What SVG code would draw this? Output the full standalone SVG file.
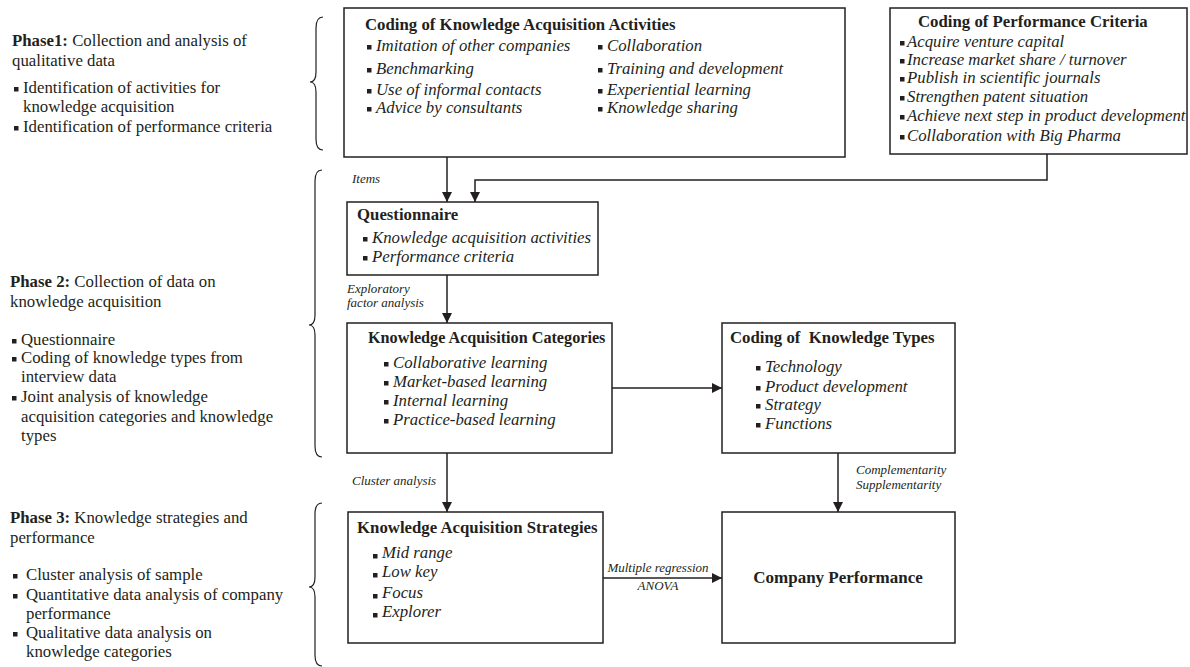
<svg xmlns="http://www.w3.org/2000/svg" width="1190" height="667" viewBox="0 0 1190 667">
<defs>
<style>
text{font-family:"Liberation Serif","Times New Roman",serif;fill:#231f20}
.t{font-size:16.8px}
.b{font-weight:bold}
.h{font-size:16.8px;font-weight:bold}
.i{font-size:16.8px;font-style:italic}
.l{font-size:13px;font-style:italic}
.box{fill:#fff;stroke:#231f20;stroke-width:1.5}
.c{fill:none;stroke:#231f20;stroke-width:1.5}
.br{fill:none;stroke:#231f20;stroke-width:1.2}
.bu{fill:#231f20}
</style>
<marker id="ah" viewBox="0 0 10 10" refX="10" refY="5" markerWidth="10" markerHeight="10" markerUnits="userSpaceOnUse" orient="auto">
<path d="M0,0 L10,5 L0,10 z" fill="#231f20"/>
</marker>
</defs>

<g id="phase1">
<text class="t" x="12" y="46"><tspan class="b">Phase1:</tspan> Collection and analysis of</text>
<text class="t" x="12" y="66">qualitative data</text>
<rect class="bu" x="14" y="87" width="4.5" height="4.5"/>
<text class="t" x="23" y="93">Identification of activities for</text>
<text class="t" x="23" y="112">knowledge acquisition</text>
<rect class="bu" x="14" y="126" width="4.5" height="4.5"/>
<text class="t" x="23" y="132">Identification of performance criteria</text>
<path class="br" d="M323,17 Q316,17 316,28 L316,72 Q316,82 310,82 Q316,82 316,92 L316,139 Q316,150 323,150"/>
</g>

<g id="phase2">
<text class="t" x="10" y="287"><tspan class="b">Phase 2:</tspan> Collection of data on</text>
<text class="t" x="10" y="307">knowledge acquisition</text>
<rect class="bu" x="12" y="339" width="4.5" height="4.5"/>
<text class="t" x="21" y="345">Questionnaire</text>
<rect class="bu" x="12" y="357" width="4.5" height="4.5"/>
<text class="t" x="21" y="363">Coding of knowledge types from</text>
<text class="t" x="21" y="382">interview data</text>
<rect class="bu" x="12" y="396" width="4.5" height="4.5"/>
<text class="t" x="21" y="402">Joint analysis of knowledge</text>
<text class="t" x="21" y="422">acquisition categories and knowledge</text>
<text class="t" x="21" y="441">types</text>
<path class="br" d="M322,170 Q315,170 315,181 L315,315 Q315,325 309,325 Q315,325 315,335 L315,446 Q315,457 322,457"/>
</g>

<g id="phase3">
<text class="t" x="10" y="523"><tspan class="b">Phase 3:</tspan> Knowledge strategies and</text>
<text class="t" x="10" y="543">performance</text>
<rect class="bu" x="13" y="574" width="4.5" height="4.5"/>
<text class="t" x="26" y="580">Cluster analysis of sample</text>
<rect class="bu" x="13" y="594" width="4.5" height="4.5"/>
<text class="t" x="26" y="600">Quantitative data analysis of company</text>
<text class="t" x="26" y="619">performance</text>
<rect class="bu" x="13" y="632" width="4.5" height="4.5"/>
<text class="t" x="26" y="638">Qualitative data analysis on</text>
<text class="t" x="26" y="657">knowledge categories</text>
<path class="br" d="M322,503 Q315,503 315,514 L315,577 Q315,587 309,587 Q315,587 315,597 L315,655 Q315,666 322,666"/>
</g>

<g id="connectors">
<line class="c" x1="447" y1="157" x2="447" y2="202" marker-end="url(#ah)"/>
<polyline class="c" points="1047,154 1047,180 475,180 475,202" marker-end="url(#ah)"/>
<line class="c" x1="447" y1="275" x2="447" y2="323" marker-end="url(#ah)"/>
<line class="c" x1="612" y1="388" x2="722" y2="388" marker-end="url(#ah)"/>
<line class="c" x1="447" y1="453" x2="447" y2="512" marker-end="url(#ah)"/>
<line class="c" x1="838" y1="453" x2="838" y2="512" marker-end="url(#ah)"/>
<line class="c" x1="603" y1="578" x2="722" y2="578" marker-end="url(#ah)"/>
<text class="l" x="352" y="183">Items</text>
<text class="l" x="347" y="293">Exploratory</text>
<text class="l" x="347" y="307">factor analysis</text>
<text class="l" x="352" y="485">Cluster analysis</text>
<text class="l" x="856" y="474">Complementarity</text>
<text class="l" x="856" y="489">Supplementarity</text>
<text class="l" x="658" y="572" text-anchor="middle">Multiple regression</text>
<text class="l" x="658" y="590" text-anchor="middle">ANOVA</text>
</g>

<g id="activities">
<rect class="box" x="344" y="8" width="501" height="149"/>
<text class="h" x="365" y="30">Coding of Knowledge Acquisition Activities</text>
<rect class="bu" x="367" y="45" width="4.5" height="4.5"/>
<text class="i" x="376" y="51">Imitation of other companies</text>
<rect class="bu" x="367" y="68" width="4.5" height="4.5"/>
<text class="i" x="376" y="74">Benchmarking</text>
<rect class="bu" x="367" y="89" width="4.5" height="4.5"/>
<text class="i" x="376" y="95">Use of informal contacts</text>
<rect class="bu" x="367" y="107" width="4.5" height="4.5"/>
<text class="i" x="376" y="113">Advice by consultants</text>
<rect class="bu" x="598" y="45" width="4.5" height="4.5"/>
<text class="i" x="607" y="51">Collaboration</text>
<rect class="bu" x="598" y="68" width="4.5" height="4.5"/>
<text class="i" x="607" y="74">Training and development</text>
<rect class="bu" x="598" y="89" width="4.5" height="4.5"/>
<text class="i" x="607" y="95">Experiential learning</text>
<rect class="bu" x="598" y="107" width="4.5" height="4.5"/>
<text class="i" x="607" y="113">Knowledge sharing</text>
</g>

<g id="criteria">
<rect class="box" x="890" y="8" width="297" height="146"/>
<text class="h" x="918" y="27">Coding of Performance Criteria</text>
<rect class="bu" x="900" y="41" width="4.5" height="4.5"/>
<text class="i" x="907" y="47">Acquire venture capital</text>
<rect class="bu" x="900" y="59" width="4.5" height="4.5"/>
<text class="i" x="907" y="65">Increase market share / turnover</text>
<rect class="bu" x="900" y="77" width="4.5" height="4.5"/>
<text class="i" x="907" y="83">Publish in scientific journals</text>
<rect class="bu" x="900" y="96" width="4.5" height="4.5"/>
<text class="i" x="907" y="102">Strengthen patent situation</text>
<rect class="bu" x="900" y="115" width="4.5" height="4.5"/>
<text class="i" x="907" y="121">Achieve next step in product development</text>
<rect class="bu" x="900" y="135" width="4.5" height="4.5"/>
<text class="i" x="907" y="141">Collaboration with Big Pharma</text>
</g>

<g id="questionnaire">
<rect class="box" x="347" y="202" width="251" height="73"/>
<text class="h" x="357" y="220">Questionnaire</text>
<rect class="bu" x="363" y="237" width="4.5" height="4.5"/>
<text class="i" x="372" y="243">Knowledge acquisition activities</text>
<rect class="bu" x="363" y="256" width="4.5" height="4.5"/>
<text class="i" x="372" y="262">Performance criteria</text>
</g>

<g id="categories">
<rect class="box" x="347" y="323" width="265" height="130"/>
<text class="h" x="368" y="343" style="font-size:16.2px">Knowledge Acquisition Categories</text>
<rect class="bu" x="384" y="362" width="4.5" height="4.5"/>
<text class="i" x="393" y="368">Collaborative learning</text>
<rect class="bu" x="384" y="381" width="4.5" height="4.5"/>
<text class="i" x="393" y="387">Market-based learning</text>
<rect class="bu" x="384" y="400" width="4.5" height="4.5"/>
<text class="i" x="393" y="406">Internal learning</text>
<rect class="bu" x="384" y="419" width="4.5" height="4.5"/>
<text class="i" x="393" y="425">Practice-based learning</text>
</g>

<g id="types">
<rect class="box" x="722" y="323" width="233" height="130"/>
<text class="h" x="730" y="343" style="white-space:pre">Coding of  Knowledge Types</text>
<rect class="bu" x="756" y="366" width="4.5" height="4.5"/>
<text class="i" x="765" y="372">Technology</text>
<rect class="bu" x="756" y="386" width="4.5" height="4.5"/>
<text class="i" x="765" y="392">Product development</text>
<rect class="bu" x="756" y="404" width="4.5" height="4.5"/>
<text class="i" x="765" y="410">Strategy</text>
<rect class="bu" x="756" y="423" width="4.5" height="4.5"/>
<text class="i" x="765" y="429">Functions</text>
</g>

<g id="strategies">
<rect class="box" x="348" y="512" width="255" height="131"/>
<text class="h" x="357" y="533">Knowledge Acquisition Strategies</text>
<rect class="bu" x="373" y="554" width="4.5" height="4.5"/>
<text class="i" x="382" y="558">Mid range</text>
<rect class="bu" x="373" y="573" width="4.5" height="4.5"/>
<text class="i" x="382" y="577">Low key</text>
<rect class="bu" x="373" y="594" width="4.5" height="4.5"/>
<text class="i" x="382" y="598">Focus</text>
<rect class="bu" x="373" y="613" width="4.5" height="4.5"/>
<text class="i" x="382" y="617">Explorer</text>
</g>

<g id="performance">
<rect class="box" x="722" y="512" width="233" height="131"/>
<text x="838" y="583" text-anchor="middle" style="font-size:17px;font-weight:bold">Company Performance</text>
</g>
</svg>
